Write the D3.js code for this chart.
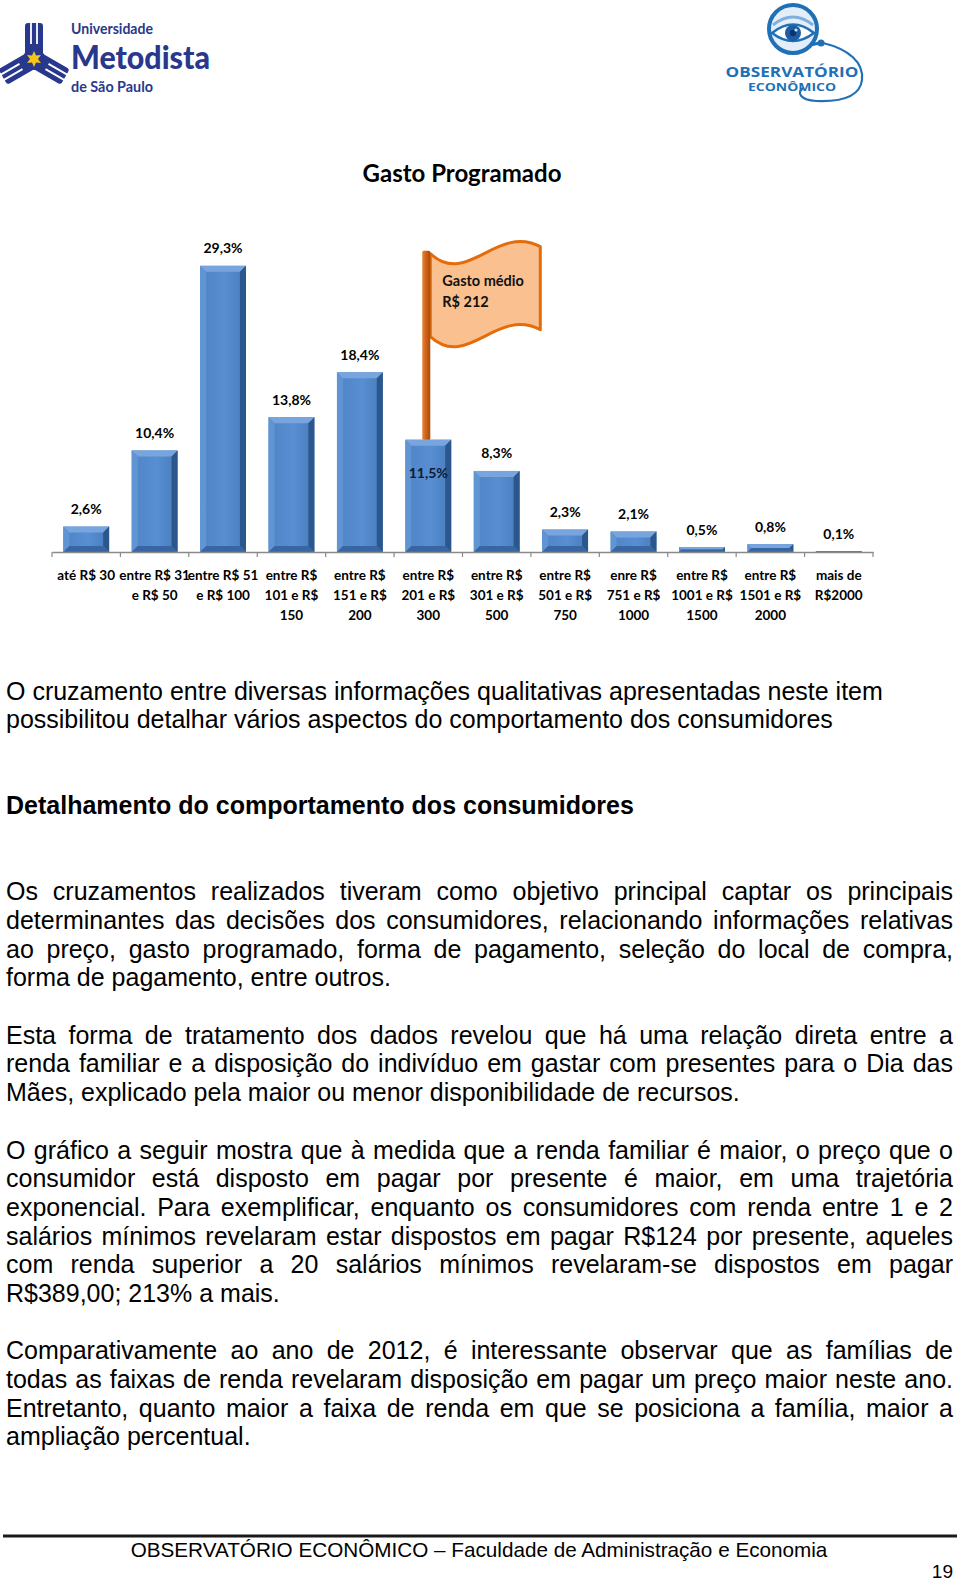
<!DOCTYPE html>
<html>
<head>
<meta charset="utf-8">
<script src="https://cdn.jsdelivr.net/npm/d3@7"></script>
<style>
body{margin:0;background:#fff;width:960px;height:1583px;overflow:hidden;position:relative;}
#pagina{position:absolute;left:0;top:0;}
#texto{position:absolute;left:6px;top:676.5px;width:947px;font-family:"Liberation Sans",Arial,sans-serif;font-size:25px;color:#000;}
.linha{height:28.7px;line-height:28.7px;white-space:nowrap;}
.just{text-align:justify;text-align-last:justify;white-space:normal;}
.neg{font-weight:bold;}
</style>
</head>
<body>
<svg id="pagina" width="960" height="1583"></svg>
<div id="texto"></div>
<script>
// dados do grafico
var tituloGrafico = "Gasto Programado";
var categorias = [
    "até R$ 30",
    "entre R$ 31\ne R$ 50",
    "entre R$ 51\ne R$ 100",
    "entre R$\n101 e R$\n150",
    "entre R$\n151 e R$\n200",
    "entre R$\n201 e R$\n300",
    "entre R$\n301 e R$\n500",
    "entre R$\n501 e R$\n750",
    "enre R$\n751 e R$\n1000",
    "entre R$\n1001 e R$\n1500",
    "entre R$\n1501 e R$\n2000",
    "mais de\nR$2000"
];
var percentuais = [2.6, 10.4, 29.3, 13.8, 18.4, 11.5, 8.3, 2.3, 2.1, 0.5, 0.8, 0.1];
var gastoMedio = 212;
var faixaMedia = 5; // faixa onde fica a bandeira (201 a 300)

// texto da pagina
var intro = [
    "O cruzamento entre diversas informações qualitativas apresentadas neste item",
    "possibilitou detalhar vários aspectos do comportamento dos consumidores"
];
var subtitulo = "Detalhamento do comportamento dos consumidores";
var paragrafos = [
    ["Os cruzamentos realizados tiveram como objetivo principal captar os principais",
     "determinantes das decisões dos consumidores, relacionando informações relativas",
     "ao preço, gasto programado, forma de pagamento, seleção do local de compra,",
     "forma de pagamento, entre outros."],
    ["Esta forma de tratamento dos dados revelou que há uma relação direta entre a",
     "renda familiar e a disposição do indivíduo em gastar com presentes para o Dia das",
     "Mães, explicado pela maior ou menor disponibilidade de recursos."],
    ["O gráfico a seguir mostra que à medida que a renda familiar é maior, o preço que o",
     "consumidor está disposto em pagar por presente é maior, em uma trajetória",
     "exponencial. Para exemplificar, enquanto os consumidores com renda entre 1 e 2",
     "salários mínimos revelaram estar dispostos em pagar R$124 por presente, aqueles",
     "com renda superior a 20 salários mínimos revelaram-se dispostos em pagar",
     "R$389,00; 213% a mais."],
    ["Comparativamente ao ano de 2012, é interessante observar que as famílias de",
     "todas as faixas de renda revelaram disposição em pagar um preço maior neste ano.",
     "Entretanto, quanto maior a faixa de renda em que se posiciona a família, maior a",
     "ampliação percentual."]
];
var rodape = "OBSERVATÓRIO ECONÔMICO – Faculdade de Administração e Economia";
var numeroPagina = "19";

var svg = d3.select("#pagina");
var fonteGrafico = "Lato, 'Open Sans', sans-serif";
var fonteTexto = "'Liberation Sans', Arial, sans-serif";
var ptBR = d3.formatLocale({decimal: ",", thousands: ".", grouping: [3], currency: ["R$ ", ""]});
var fmt = ptBR.format(".1f");

window.onload = init();

function init(){
    var defs = svg.append("defs");
    var gr = defs.append("linearGradient").attr("id","faceBarra").attr("x1",0).attr("x2",1).attr("y1",0).attr("y2",0);
    gr.append("stop").attr("offset","0%").attr("stop-color","#4f84c6");
    gr.append("stop").attr("offset","55%").attr("stop-color","#588fd2");
    gr.append("stop").attr("offset","100%").attr("stop-color","#477bbb");
    var gp = defs.append("linearGradient").attr("id","mastro").attr("x1",0).attr("x2",1).attr("y1",0).attr("y2",0);
    gp.append("stop").attr("offset","0%").attr("stop-color","#e8802e");
    gp.append("stop").attr("offset","45%").attr("stop-color","#d0641a");
    gp.append("stop").attr("offset","100%").attr("stop-color","#a44a0c");

    logoMetodista(svg.append("g"));
    logoObservatorio(svg.append("g"));
    desenhaGrafico(svg.append("g"));
    desenhaTexto();
    desenhaRodape(svg.append("g"));
}

function desenhaGrafico(g){
    var x = d3.scaleBand().domain(categorias).range([52, 873]).paddingInner(0.33).paddingOuter(0.165);
    var y = d3.scaleLinear().domain([0, 30]).range([552, 259]);
    var bw = x.bandwidth();

    g.append("text")
        .attr("x",462).attr("y",182)
        .attr("text-anchor","middle")
        .attr("font-family",fonteGrafico).attr("font-weight","bold").attr("font-size","24px")
        .attr("fill","#000")
        .text(tituloGrafico);

    // barras com chanfro
    percentuais.forEach(function(v,i){
        var x0 = x(categorias[i]);
        var y0 = y(v);
        var h = y(0) - y0;
        var b = Math.min(6, h/2, bw/4);
        var gb = g.append("g").attr("class","barra");
        gb.append("rect").attr("x",x0).attr("y",y0).attr("width",bw).attr("height",h).attr("fill","url(#faceBarra)");
        var pts = {
            topo: [[x0,y0],[x0+bw,y0],[x0+bw-b,y0+b],[x0+b,y0+b]],
            esq: [[x0,y0],[x0+b,y0+b],[x0+b,y0+h-b],[x0,y0+h]],
            dir: [[x0+bw,y0],[x0+bw,y0+h],[x0+bw-b,y0+h-b],[x0+bw-b,y0+b]],
            base: [[x0,y0+h],[x0+bw,y0+h],[x0+bw-b,y0+h-b],[x0+b,y0+h-b]]
        };
        var cores = {topo:"#78a5dd", esq:"#6194d3", dir:"#2c578c", base:"#3866a2"};
        Object.keys(pts).forEach(function(k){
            gb.append("polygon")
                .attr("points",pts[k].map(function(p){ return p.join(","); }).join(" "))
                .attr("fill",cores[k]);
        });
    });

    // eixo x
    var eixo = d3.axisBottom(x).tickSize(0).tickFormat("");
    var gEixo = g.append("g").attr("transform","translate(0,"+y(0)+")").call(eixo);
    gEixo.select(".domain").attr("stroke","#8a8a8a").attr("stroke-width",1.3);
    var meioPad = x.step()*x.paddingInner()/2;
    var limites = categorias.map(function(c){ return x(c) - meioPad; });
    limites.push(x(categorias[categorias.length-1]) + bw + meioPad);
    g.selectAll(".marca").data(limites).enter().append("line")
        .attr("class","marca")
        .attr("x1",function(d){ return d; }).attr("x2",function(d){ return d; })
        .attr("y1",y(0)).attr("y2",y(0)+5)
        .attr("stroke","#8a8a8a").attr("stroke-width",1.2);

    // rotulos das categorias
    categorias.forEach(function(c){
        var t = g.append("text")
            .attr("x",x(c)+bw/2).attr("y",579.5)
            .attr("text-anchor","middle")
            .attr("font-family",fonteGrafico).attr("font-weight","bold").attr("font-size","13.5px")
            .attr("fill","#000");
        c.split("\n").forEach(function(linha,j){
            t.append("tspan").attr("x",x(c)+bw/2).attr("dy",j === 0 ? 0 : 20).text(linha);
        });
    });

    // bandeira do gasto medio
    var px = x(categorias[faixaMedia]) + bw/2 - 2;
    var topoMastro = y(percentuais[faixaMedia]) - 189;
    var fx = px + 4;
    var fy = topoMastro + 3;
    var fw = 110, desloc = 83;
    var bandeira = "M"+fx+","+fy+
        " C"+(fx+37)+","+(fy+34)+" "+(fx+66)+","+(fy-30)+" "+(fx+fw)+","+(fy-7)+
        " L"+(fx+fw)+","+(fy-7+desloc)+
        " C"+(fx+66)+","+(fy-30+desloc)+" "+(fx+37)+","+(fy+34+desloc)+" "+fx+","+(fy+desloc)+" Z";
    g.append("path").attr("d",bandeira)
        .attr("fill","#fac090").attr("stroke","#e46c0a").attr("stroke-width",3).attr("stroke-linejoin","round");
    g.append("rect")
        .attr("x",px-4).attr("y",topoMastro)
        .attr("width",8).attr("height",y(percentuais[faixaMedia]) - topoMastro)
        .attr("rx",1.5)
        .attr("fill","url(#mastro)");
    g.append("text")
        .attr("x",fx+12).attr("y",fy+32)
        .attr("font-family",fonteGrafico).attr("font-weight","bold").attr("font-size","14.5px")
        .attr("fill","#111")
        .text("Gasto médio");
    g.append("text")
        .attr("x",fx+12).attr("y",fy+53)
        .attr("font-family",fonteGrafico).attr("font-weight","bold").attr("font-size","14.5px")
        .attr("fill","#111")
        .text("R$ " + gastoMedio);

    // rotulos de valor
    g.selectAll(".valor").data(percentuais).enter().append("text")
        .attr("class","valor")
        .attr("x",function(d,i){ return x(categorias[i]) + bw/2; })
        .attr("y",function(d,i){ return i === faixaMedia ? y(d) + 38 : y(d) - 12.5; })
        .attr("text-anchor","middle")
        .attr("font-family",fonteGrafico).attr("font-weight","bold").attr("font-size","14px")
        .attr("fill",function(d,i){ return i === faixaMedia ? "#0d1a33" : "#000"; })
        .text(function(d){ return fmt(d) + "%"; });
}

function desenhaTexto(){
    var linhas = [];
    intro.forEach(function(t){ linhas.push({t:t, cls:"linha"}); });
    linhas.push({t:"", cls:"linha"});
    linhas.push({t:"", cls:"linha"});
    linhas.push({t:subtitulo, cls:"linha neg"});
    linhas.push({t:"", cls:"linha"});
    linhas.push({t:"", cls:"linha"});
    paragrafos.forEach(function(p,k){
        if(k > 0) linhas.push({t:"", cls:"linha"});
        p.forEach(function(t,j){
            linhas.push({t:t, cls: j < p.length-1 ? "linha just" : "linha"});
        });
    });
    d3.select("#texto").selectAll("div").data(linhas).enter().append("div")
        .attr("class",function(d){ return d.cls; })
        .html(function(d){ return d.t === "" ? "&nbsp;" : null; })
        .each(function(d){ if(d.t !== "") d3.select(this).text(d.t); });
}

function desenhaRodape(g){
    g.append("rect").attr("x",3).attr("y",1534.5).attr("width",954).attr("height",3).attr("fill","#1a1a1a");
    g.append("text")
        .attr("x",479).attr("y",1557)
        .attr("text-anchor","middle")
        .attr("font-family",fonteTexto).attr("font-size","20.7px")
        .attr("fill","#000")
        .text(rodape);
    g.append("text")
        .attr("x",953).attr("y",1578)
        .attr("text-anchor","end")
        .attr("font-family",fonteTexto).attr("font-size","19px")
        .attr("fill","#000")
        .text(numeroPagina);
}

function logoMetodista(g){
    var azul = "#28388c";
    var cx = 34, cy = 59;
    var emb = g.append("g").attr("transform","translate("+cx+","+cy+")");
    [0,120,240].forEach(function(a){
        var b = emb.append("g").attr("transform","rotate("+a+")");
        b.append("path")
            .attr("d","M-9,-4 L-9,-33 Q-9,-36 -6,-36 L6,-36 Q9,-36 9,-33 L9,-4 Z")
            .attr("fill",azul);
        [-3,3].forEach(function(sx){
            b.append("line").attr("x1",sx).attr("x2",sx).attr("y1",-37).attr("y2",-15)
                .attr("stroke","#fff").attr("stroke-width",1.8);
        });
    });
    emb.append("circle").attr("r",11).attr("fill",azul);
    var estrela = d3.range(12).map(function(k){
        var r = k % 2 === 0 ? 8 : 4;
        var ang = k * Math.PI / 6;
        return [r*Math.sin(ang), -r*Math.cos(ang)].join(",");
    }).join(" ");
    emb.append("polygon").attr("points",estrela).attr("fill","#f5c518");

    g.append("text").attr("x",71).attr("y",34)
        .attr("font-family","Lato, sans-serif").attr("font-weight","bold").attr("font-size","16px")
        .attr("textLength",82).attr("lengthAdjust","spacingAndGlyphs")
        .attr("fill",azul).text("Universidade");
    g.append("text").attr("x",71).attr("y",69)
        .attr("font-family","Lato, sans-serif").attr("font-weight","900").attr("font-size","32px")
        .attr("textLength",139).attr("lengthAdjust","spacingAndGlyphs")
        .attr("fill",azul).text("Metodista");
    g.append("text").attr("x",71).attr("y",91.5)
        .attr("font-family","Lato, sans-serif").attr("font-weight","bold").attr("font-size","16px")
        .attr("textLength",82).attr("lengthAdjust","spacingAndGlyphs")
        .attr("fill",azul).text("de São Paulo");
}

function logoObservatorio(g){
    var azul = "#1f70b6";
    var cx = 793, cy = 29;
    g.append("path")
        .attr("d","M823,43 C848,49 864,62 862,80 C860,96 842,102 816,101 C801,100 796,93 803,88")
        .attr("fill","none").attr("stroke",azul).attr("stroke-width",2.2);
    g.append("line").attr("x1",810).attr("y1",45).attr("x2",820).attr("y2",43)
        .attr("stroke",azul).attr("stroke-width",3);
    g.append("circle").attr("cx",821).attr("cy",43).attr("r",3.5).attr("fill",azul);
    g.append("circle").attr("cx",cx).attr("cy",cy).attr("r",24)
        .attr("fill","#e3eef9").attr("stroke",azul).attr("stroke-width",4);
    g.append("path").attr("d","M773,25 Q793,9 813,25")
        .attr("fill","none").attr("stroke","#7fb0de").attr("stroke-width",3);
    g.append("path").attr("d","M772,33 Q793,16 814,33 Q793,49 772,33 Z")
        .attr("fill","#fff").attr("stroke",azul).attr("stroke-width",2.5);
    g.append("circle").attr("cx",cx).attr("cy",33).attr("r",8).attr("fill","#1c5ea6");
    g.append("circle").attr("cx",cx).attr("cy",33).attr("r",3.2).attr("fill","#0b3566");
    g.append("circle").attr("cx",cx+3).attr("cy",30).attr("r",1.6).attr("fill","#cfe3f6");

    g.append("text").attr("x",792).attr("y",77)
        .attr("text-anchor","middle")
        .attr("font-family","'Open Sans', sans-serif").attr("font-weight","bold").attr("font-size","15px")
        .attr("textLength",133).attr("lengthAdjust","spacingAndGlyphs")
        .attr("fill",azul).text("OBSERVATÓRIO");
    g.append("text").attr("x",792).attr("y",91)
        .attr("text-anchor","middle")
        .attr("font-family","'Open Sans', sans-serif").attr("font-weight","bold").attr("font-size","11px")
        .attr("textLength",88).attr("lengthAdjust","spacingAndGlyphs")
        .attr("fill",azul).text("ECONÔMICO");
}
</script>
</body>
</html>
